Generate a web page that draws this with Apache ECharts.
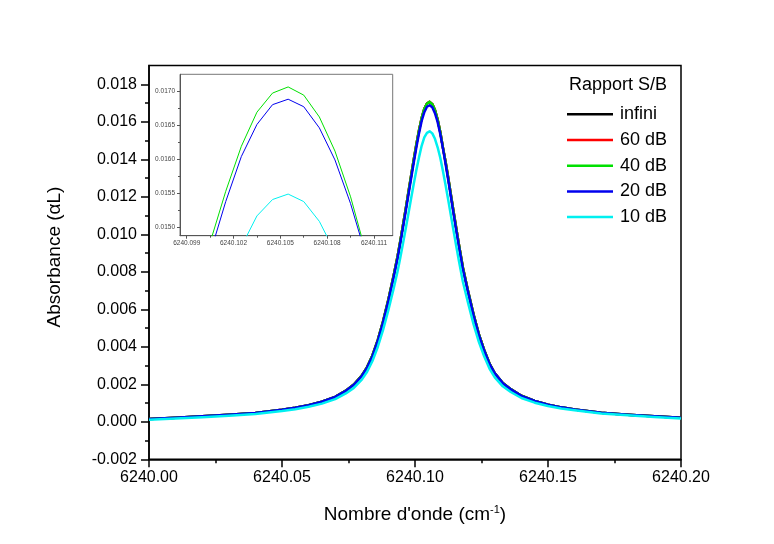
<!DOCTYPE html>
<html>
<head>
<meta charset="utf-8">
<script src="https://cdn.jsdelivr.net/npm/echarts@6/dist/echarts.min.js"></script>
<style>
html,body{margin:0;padding:0;background:#fff;}
#chart{width:774px;height:544px;}
</style>
</head>
<body>
<div id="chart"></div>
<script>
// ---- data ----
const wavenumber = [
  6240.000, 6240.010, 6240.020, 6240.030, 6240.040, 6240.050, 6240.055, 6240.060, 6240.065, 6240.070,
  6240.074, 6240.077, 6240.080, 6240.082, 6240.084, 6240.086, 6240.088, 6240.090, 6240.092, 6240.0935,
  6240.0945, 6240.0955, 6240.0965, 6240.0975, 6240.0985, 6240.0995, 6240.1005, 6240.1015, 6240.1025, 6240.1035,
  6240.1045, 6240.1055, 6240.1065, 6240.1075, 6240.1085, 6240.1095, 6240.1105, 6240.1115, 6240.1125, 6240.1135,
  6240.1145, 6240.1155,
  6240.1165, 6240.118, 6240.120, 6240.122, 6240.124, 6240.126, 6240.128, 6240.130, 6240.133, 6240.136,
  6240.140, 6240.145, 6240.150, 6240.155, 6240.160, 6240.170, 6240.180, 6240.190, 6240.200];

const absInfini = [
  0.00015, 0.00022, 0.00029, 0.00037, 0.00047, 0.00064, 0.00075, 0.00089, 0.00107, 0.00133,
  0.00166, 0.00199, 0.00246, 0.00292, 0.00354, 0.00436, 0.00536, 0.00652, 0.00781, 0.00885,
  0.00965, 0.01049, 0.01134, 0.01222, 0.01309, 0.01395, 0.01478, 0.01553, 0.01619, 0.01669,
  0.01697, 0.01706, 0.01694, 0.01662, 0.01612, 0.01545, 0.01462, 0.01386, 0.01300, 0.01210,
  0.01120, 0.01032,
  0.00946, 0.00823, 0.00694, 0.00573, 0.00468, 0.00383, 0.00311, 0.00259, 0.00207, 0.00174,
  0.00139, 0.00111, 0.00091, 0.00077, 0.00066, 0.00048, 0.00038, 0.00029, 0.00021];

const abs60dB = [
  0.00015, 0.00022, 0.00029, 0.00037, 0.00047, 0.00064, 0.00075, 0.00089, 0.00107, 0.00133,
  0.00166, 0.00199, 0.00246, 0.00292, 0.00354, 0.00436, 0.00536, 0.00652, 0.00781, 0.00885,
  0.00965, 0.01049, 0.01134, 0.01222, 0.01309, 0.01395, 0.01478, 0.01553, 0.01619, 0.01669,
  0.01697, 0.01706, 0.01694, 0.01662, 0.01612, 0.01545, 0.01462, 0.01386, 0.01300, 0.01210,
  0.01120, 0.01032,
  0.00946, 0.00823, 0.00694, 0.00573, 0.00468, 0.00383, 0.00311, 0.00259, 0.00207, 0.00174,
  0.00139, 0.00111, 0.00091, 0.00077, 0.00066, 0.00048, 0.00038, 0.00029, 0.00021];

const abs40dB = [
  0.00015, 0.00022, 0.00029, 0.00037, 0.00047, 0.00064, 0.00075, 0.00089, 0.00107, 0.00133,
  0.00166, 0.00199, 0.00246, 0.00292, 0.00354, 0.00436, 0.00536, 0.00652, 0.00781, 0.00885,
  0.00965, 0.01049, 0.01134, 0.01222, 0.01309, 0.01395, 0.01478, 0.01553, 0.01619, 0.01669,
  0.01697, 0.01706, 0.01694, 0.01662, 0.01612, 0.01545, 0.01462, 0.01386, 0.01300, 0.01210,
  0.01120, 0.01032,
  0.00946, 0.00823, 0.00694, 0.00573, 0.00468, 0.00383, 0.00311, 0.00259, 0.00207, 0.00174,
  0.00139, 0.00111, 0.00091, 0.00077, 0.00066, 0.00048, 0.00038, 0.00029, 0.00021];

const abs20dB = [
  0.00015, 0.00022, 0.00029, 0.00037, 0.00047, 0.00064, 0.00075, 0.00089, 0.00107, 0.00133,
  0.00165, 0.00197, 0.00244, 0.00289, 0.00350, 0.00431, 0.00530, 0.00645, 0.00773, 0.00876,
  0.00955, 0.01038, 0.01122, 0.01208, 0.01295, 0.01380, 0.01462, 0.01538, 0.01604, 0.01651,
  0.01680, 0.01688, 0.01677, 0.01646, 0.01599, 0.01535, 0.01458, 0.01375, 0.01289, 0.01200,
  0.01110, 0.01022,
  0.00937, 0.00815, 0.00688, 0.00568, 0.00464, 0.00380, 0.00309, 0.00258, 0.00206, 0.00173,
  0.00138, 0.00111, 0.00091, 0.00077, 0.00066, 0.00048, 0.00038, 0.00029, 0.00021];

const abs10dB = [
  0.00011, 0.00017, 0.00024, 0.00032, 0.00041, 0.00057, 0.00067, 0.00080, 0.00097, 0.00121,
  0.00151, 0.00181, 0.00225, 0.00267, 0.00324, 0.00399, 0.00490, 0.00596, 0.00713, 0.00806,
  0.00877, 0.00952, 0.01029, 0.01108, 0.01188, 0.01266, 0.01341, 0.01410, 0.01472, 0.01517,
  0.01541, 0.01549, 0.01538, 0.01509, 0.01464, 0.01408, 0.01337, 0.01261, 0.01182, 0.01100,
  0.01018, 0.00937,
  0.00859, 0.00747, 0.00631, 0.00521, 0.00426, 0.00349, 0.00284, 0.00237, 0.00189, 0.00159,
  0.00127, 0.00102, 0.00084, 0.00071, 0.00061, 0.00044, 0.00035, 0.00026, 0.00018];

const seriesNames = ['infini', '60 dB', '40 dB', '20 dB', '10 dB'];
const seriesColors = ['#000000', '#ff0000', '#00e000', '#0000ee', '#00f0f0'];
const insetShown = [false, false, true, true, true];

// tick labels
const mainYTicks = [-0.002, 0.000, 0.002, 0.004, 0.006, 0.008, 0.010, 0.012, 0.014, 0.016, 0.018];
const mainYMinorTicks = [-0.001, 0.001, 0.003, 0.005, 0.007, 0.009, 0.011, 0.013, 0.015, 0.017];
const insetXTicks = [6240.099, 6240.102, 6240.105, 6240.108, 6240.111];
const insetXMinorTicks = [6240.1005, 6240.1035, 6240.1065, 6240.1095];
const insetYTicks = [0.0150, 0.0155, 0.0160, 0.0165, 0.0170];
const insetYMinorTicks = [0.01525, 0.01575, 0.01625, 0.01675];

// ---- chart ----
const FONT = "'Liberation Sans', Arial, sans-serif";
const allSeries = [absInfini, abs60dB, abs40dB, abs20dB, abs10dB];
const toData = arr => wavenumber.map((x, i) => [x, arr[i]]);

const series = [];
allSeries.forEach((arr, k) => {
  series.push({
    name: seriesNames[k], type: 'line', xAxisIndex: 0, yAxisIndex: 0,
    data: toData(arr), showSymbol: false, symbol: 'none',
    lineStyle: { color: seriesColors[k], width: 2.5, join: 'round' }, itemStyle: { color: seriesColors[k] },
    z: 2 + k
  });
});
allSeries.forEach((arr, k) => {
  if (!insetShown[k]) return;
  series.push({
    name: seriesNames[k], type: 'line', xAxisIndex: 1, yAxisIndex: 2,
    data: toData(arr), showSymbol: false, symbol: 'none', clip: true,
    lineStyle: { color: seriesColors[k], width: 1 }, itemStyle: { color: seriesColors[k] },
    z: 2 + k
  });
});

const chart = echarts.init(document.getElementById('chart'), null, { renderer: 'canvas' });
chart.setOption({
  animation: false,
  backgroundColor: '#fff',
  textStyle: { fontFamily: FONT },
  grid: [
    { left: 149, right: 93, top: 65.5, bottom: 84.7, show: true, borderColor: '#000', borderWidth: 1.5, backgroundColor: 'transparent' },
    { left: 180, top: 74.3, width: 212.7, height: 161.4, show: true, borderColor: '#777', borderWidth: 1, backgroundColor: '#fff' }
  ],
  legend: {
    data: seriesNames, orient: 'vertical', left: 567, top: 105.3, padding: 0,
    itemWidth: 46, itemHeight: 2.5, itemGap: 7.7, icon: 'rect',
    textStyle: { fontSize: 18, color: '#000', fontFamily: FONT, padding: [0, 0, 0, 2] },
    selectedMode: false
  },
  xAxis: [
    {
      type: 'value', gridIndex: 0, min: 6240.00, max: 6240.20, interval: 0.05,
      axisLine: { show: true, onZero: false, lineStyle: { color: '#000', width: 1.5 } },
      axisTick: { show: true, length: 8, lineStyle: { color: '#000', width: 1.5 } },
      minorTick: { show: true, splitNumber: 2, length: 4, lineStyle: { color: '#000', width: 1.5 } },
      axisLabel: { fontSize: 16, color: '#000', margin: 10, fontFamily: FONT, formatter: v => v.toFixed(2) },
      splitLine: { show: false }, minorSplitLine: { show: false }
    },
    {
      type: 'value', gridIndex: 1, min: 6240.09857, max: 6240.1122,
      axisLine: { show: true, onZero: false, lineStyle: { color: '#555', width: 1 } },
      axisTick: { show: true, length: 3, customValues: insetXTicks, lineStyle: { color: '#555', width: 1 } },
      axisLabel: { fontSize: 6.5, color: '#444', margin: 4, fontFamily: FONT, customValues: insetXTicks, formatter: v => v.toFixed(3) },
      splitLine: { show: false }
    },
    {
      type: 'value', gridIndex: 1, min: 6240.09857, max: 6240.1122, position: 'bottom',
      axisLine: { show: false, onZero: false },
      axisTick: { show: true, length: 2, customValues: insetXMinorTicks, lineStyle: { color: '#555', width: 1 } },
      axisLabel: { show: false },
      splitLine: { show: false }
    }
  ],
  yAxis: [
    {
      type: 'value', gridIndex: 0, min: -0.002, max: 0.019,
      axisLine: { show: true, onZero: false, lineStyle: { color: '#000', width: 1.5 } },
      axisTick: { show: true, length: 8, customValues: mainYTicks, lineStyle: { color: '#000', width: 1.5 } },
      axisLabel: { fontSize: 16, color: '#000', margin: 12, fontFamily: FONT, customValues: mainYTicks, formatter: v => v.toFixed(3) },
      splitLine: { show: false }
    },
    {
      type: 'value', gridIndex: 0, min: -0.002, max: 0.019, position: 'left',
      axisLine: { show: false, onZero: false },
      axisTick: { show: true, length: 4, customValues: mainYMinorTicks, lineStyle: { color: '#000', width: 1.5 } },
      axisLabel: { show: false },
      splitLine: { show: false }
    },
    {
      type: 'value', gridIndex: 1, min: 0.01488, max: 0.017245,
      axisLine: { show: true, onZero: false, lineStyle: { color: '#555', width: 1 } },
      axisTick: { show: true, length: 3, customValues: insetYTicks, lineStyle: { color: '#555', width: 1 } },
      axisLabel: { fontSize: 6.5, color: '#444', margin: 5, fontFamily: FONT, customValues: insetYTicks, formatter: v => v.toFixed(4) },
      splitLine: { show: false }
    },
    {
      type: 'value', gridIndex: 1, min: 0.01488, max: 0.017245, position: 'left',
      axisLine: { show: false, onZero: false },
      axisTick: { show: true, length: 2, customValues: insetYMinorTicks, lineStyle: { color: '#555', width: 1 } },
      axisLabel: { show: false },
      splitLine: { show: false }
    }
  ],
  graphic: [
    {
      type: 'text', x: 55, y: 257, rotation: Math.PI / 2,
      style: { text: 'Absorbance (\u03b1L)', fontSize: 19, fontFamily: FONT, fill: '#000', align: 'center', verticalAlign: 'middle' }
    },
    {
      type: 'text', x: 415, y: 515,
      style: {
        text: "Nombre d'onde (cm{sup|-1})", fontSize: 19, fontFamily: FONT, fill: '#000',
        align: 'center', verticalAlign: 'middle',
        rich: { sup: { fontSize: 11, fontFamily: FONT, fill: '#000', verticalAlign: 'top', lineHeight: 22 } }
      }
    },
    {
      type: 'text', x: 667, y: 85,
      style: { text: 'Rapport S/B', fontSize: 18, fontFamily: FONT, fill: '#000', align: 'right', verticalAlign: 'middle' }
    }
  ],
  series: series
});
</script>
</body>
</html>
